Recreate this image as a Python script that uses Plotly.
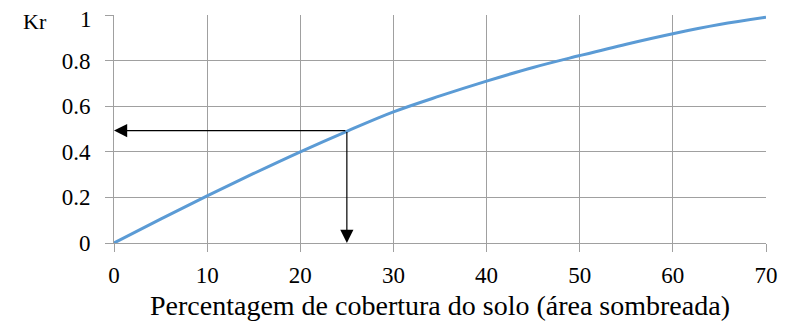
import plotly.graph_objects as go

cover_pct = [0, 5, 10, 15, 20, 25, 30, 35, 40, 45, 50, 55, 60, 65, 70]
kr_values = [0, 0.105, 0.207, 0.305, 0.40, 0.49, 0.575, 0.645, 0.71, 0.77, 0.822, 0.872, 0.918, 0.958, 0.99]
x_ticks = [0, 10, 20, 30, 40, 50, 60, 70]
y_ticks = [0, 0.2, 0.4, 0.6, 0.8, 1]
y_tick_labels = ["0", "0.2", "0.4", "0.6", "0.8", "1"]
example_x = 25
example_kr = 0.493

FONT = "Liberation Serif, Times New Roman, serif"
GRID = "#A0A0A0"

fig = go.Figure()
fig.add_trace(go.Scatter(x=cover_pct, y=kr_values, mode="lines",
                         line=dict(color="#5B9BD5", width=3, shape="spline"),
                         hoverinfo="skip", showlegend=False))

# arrows
for (tx, ty) in [(0, example_kr), (example_x, 0)]:
    fig.add_annotation(x=tx, y=ty, ax=example_x, ay=example_kr,
                       xref="x", yref="y", axref="x", ayref="y", text="",
                       showarrow=True, arrowhead=2, arrowsize=2.2, arrowwidth=1.2,
                       arrowcolor="black", standoff=0)

# top y tick label drawn slightly lower (as in the reference), so it is not clipped
fig.add_annotation(x=0, y=y_ticks[-1], xref="paper", yref="y", text=y_tick_labels[-1],
                   showarrow=False, xanchor="right", yanchor="middle",
                   xshift=-20, yshift=-4, font=dict(family=FONT, size=23, color="black"))

fig.add_annotation(x=-0.142, y=0.97, xref="paper", yref="paper", text="Kr",
                   showarrow=False, font=dict(family=FONT, size=22, color="black"),
                   xanchor="left", yanchor="middle")

fig.update_layout(
    width=778, height=317,
    margin=dict(l=106, r=20, t=7, b=82),
    paper_bgcolor="white", plot_bgcolor="white",
    font=dict(family=FONT, size=23, color="black"),
    xaxis=dict(range=[0, 70], tickvals=x_ticks, showgrid=True, gridcolor=GRID, gridwidth=1,
               showline=True, linecolor=GRID, linewidth=1, ticks="outside", ticklen=8,
               tickcolor=GRID, zeroline=False, ticklabelstandoff=3, automargin=False,
               ticklabeloverflow="allow",
               tickfont=dict(family=FONT, size=23, color="black"),
               title=dict(text="Percentagem de cobertura do solo (área sombreada)",
                          font=dict(family=FONT, size=28), standoff=8)),
    yaxis=dict(range=[0, 1], tickvals=y_ticks, ticktext=y_tick_labels[:-1] + [""], showgrid=True,
               gridcolor=GRID, gridwidth=1, showline=True, linecolor=GRID, linewidth=1,
               ticks="outside", ticklen=8, tickcolor=GRID, zeroline=False,
               ticklabelstandoff=10, automargin=False, ticklabeloverflow="allow",
               tickfont=dict(family=FONT, size=23, color="black")),
)

fig.write_html("out.html")
